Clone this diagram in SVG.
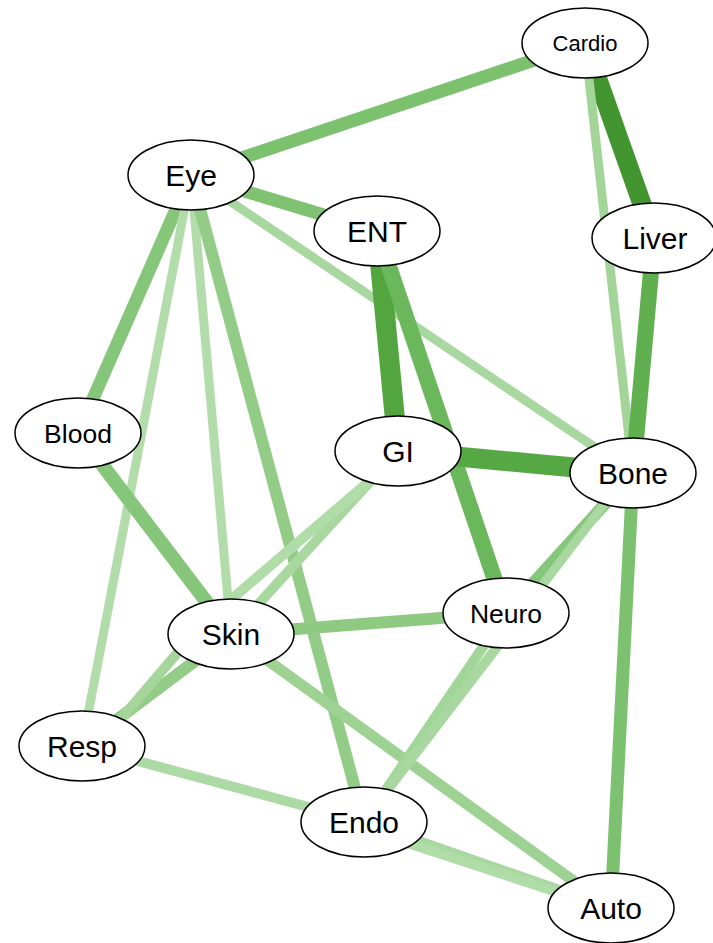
<svg xmlns="http://www.w3.org/2000/svg" width="713" height="943" viewBox="0 0 713 943">
<style>
.e{fill:none;stroke-linecap:butt}
.n ellipse{fill:#fff;stroke:#000;stroke-width:1.5}
.n text{font-family:"Liberation Sans",Arial,sans-serif;fill:#000;text-anchor:middle}
</style>
<rect width="713" height="943" fill="#fff"/>
<g id="edges" class="e">
<line x1="585" y1="43" x2="654" y2="238" stroke="#43962f" stroke-width="19"/>
<line x1="585" y1="43" x2="633" y2="473" stroke="#a3d599" stroke-width="9"/>
<line x1="654" y1="238" x2="633" y2="473" stroke="#60b04f" stroke-width="16"/>
<line x1="191" y1="175" x2="585" y2="43" stroke="#7bc16e" stroke-width="13"/>
<line x1="191" y1="175" x2="377" y2="231" stroke="#7fc372" stroke-width="13"/>
<line x1="191" y1="175" x2="633" y2="473" stroke="#a8d8a0" stroke-width="9"/>
<line x1="191" y1="175" x2="78" y2="433" stroke="#86c67a" stroke-width="13"/>
<line x1="191" y1="175" x2="82" y2="746" stroke="#b2dcaa" stroke-width="9"/>
<line x1="191" y1="175" x2="231" y2="634" stroke="#b2dcaa" stroke-width="9"/>
<line x1="191" y1="175" x2="364" y2="822" stroke="#93cc87" stroke-width="12"/>
<line x1="377" y1="231" x2="398" y2="451" stroke="#52a53f" stroke-width="20"/>
<line x1="377" y1="231" x2="506" y2="613" stroke="#6bb85c" stroke-width="16"/>
<line x1="398" y1="451" x2="633" y2="473" stroke="#55a844" stroke-width="20"/>
<line x1="78" y1="433" x2="231" y2="634" stroke="#86c67a" stroke-width="14"/>
<line x1="398" y1="451" x2="231" y2="634" stroke="#a8d8a0" stroke-width="10"/>
<line x1="380" y1="472" x2="220" y2="609" stroke="#b0dca8" stroke-width="10"/>
<line x1="633" y1="473" x2="506" y2="613" stroke="#86c67a" stroke-width="12"/>
<line x1="615" y1="490" x2="521" y2="613" stroke="#a8d8a0" stroke-width="9"/>
<line x1="633" y1="473" x2="611" y2="908" stroke="#7cc16f" stroke-width="13"/>
<line x1="231" y1="634" x2="506" y2="613" stroke="#8fca83" stroke-width="12"/>
<line x1="82" y1="746" x2="231" y2="634" stroke="#93cc87" stroke-width="12"/>
<line x1="120" y1="720" x2="185" y2="644" stroke="#a5d59b" stroke-width="10"/>
<line x1="231" y1="634" x2="611" y2="908" stroke="#9dd293" stroke-width="11"/>
<line x1="82" y1="746" x2="364" y2="822" stroke="#acdaa4" stroke-width="10"/>
<line x1="506" y1="613" x2="364" y2="822" stroke="#a2d598" stroke-width="10"/>
<line x1="510" y1="630" x2="372" y2="810" stroke="#a8d8a0" stroke-width="10"/>
<line x1="364" y1="822" x2="611" y2="908" stroke="#a8d8a0" stroke-width="10"/>
<line x1="380" y1="834" x2="600" y2="906" stroke="#b0dca8" stroke-width="10"/>
</g>
<g id="node-cardio" class="n"><ellipse cx="585" cy="43" rx="63" ry="35"/><text x="585" y="51" font-size="22">Cardio</text></g>
<g id="node-eye" class="n"><ellipse cx="191" cy="175" rx="63" ry="35"/><text x="191" y="186" font-size="30">Eye</text></g>
<g id="node-ent" class="n"><ellipse cx="377" cy="231" rx="63" ry="35"/><text x="377" y="242" font-size="30">ENT</text></g>
<g id="node-liver" class="n"><ellipse cx="654" cy="238" rx="62" ry="35"/><text x="655" y="249" font-size="30">Liver</text></g>
<g id="node-blood" class="n"><ellipse cx="78" cy="433" rx="63" ry="35"/><text x="78" y="443" font-size="26.5">Blood</text></g>
<g id="node-gi" class="n"><ellipse cx="398" cy="451" rx="63" ry="35"/><text x="398" y="462" font-size="30">GI</text></g>
<g id="node-bone" class="n"><ellipse cx="633" cy="473" rx="63" ry="35"/><text x="633" y="484" font-size="30">Bone</text></g>
<g id="node-neuro" class="n"><ellipse cx="506" cy="613" rx="63" ry="35"/><text x="506" y="623" font-size="26.5">Neuro</text></g>
<g id="node-skin" class="n"><ellipse cx="231" cy="634" rx="63" ry="35"/><text x="231" y="645" font-size="30">Skin</text></g>
<g id="node-resp" class="n"><ellipse cx="82" cy="746" rx="63" ry="35"/><text x="82" y="757" font-size="30">Resp</text></g>
<g id="node-endo" class="n"><ellipse cx="364" cy="822" rx="63" ry="35"/><text x="364" y="833" font-size="30">Endo</text></g>
<g id="node-auto" class="n"><ellipse cx="611" cy="908" rx="63" ry="35"/><text x="611" y="919" font-size="30">Auto</text></g>
</svg>
